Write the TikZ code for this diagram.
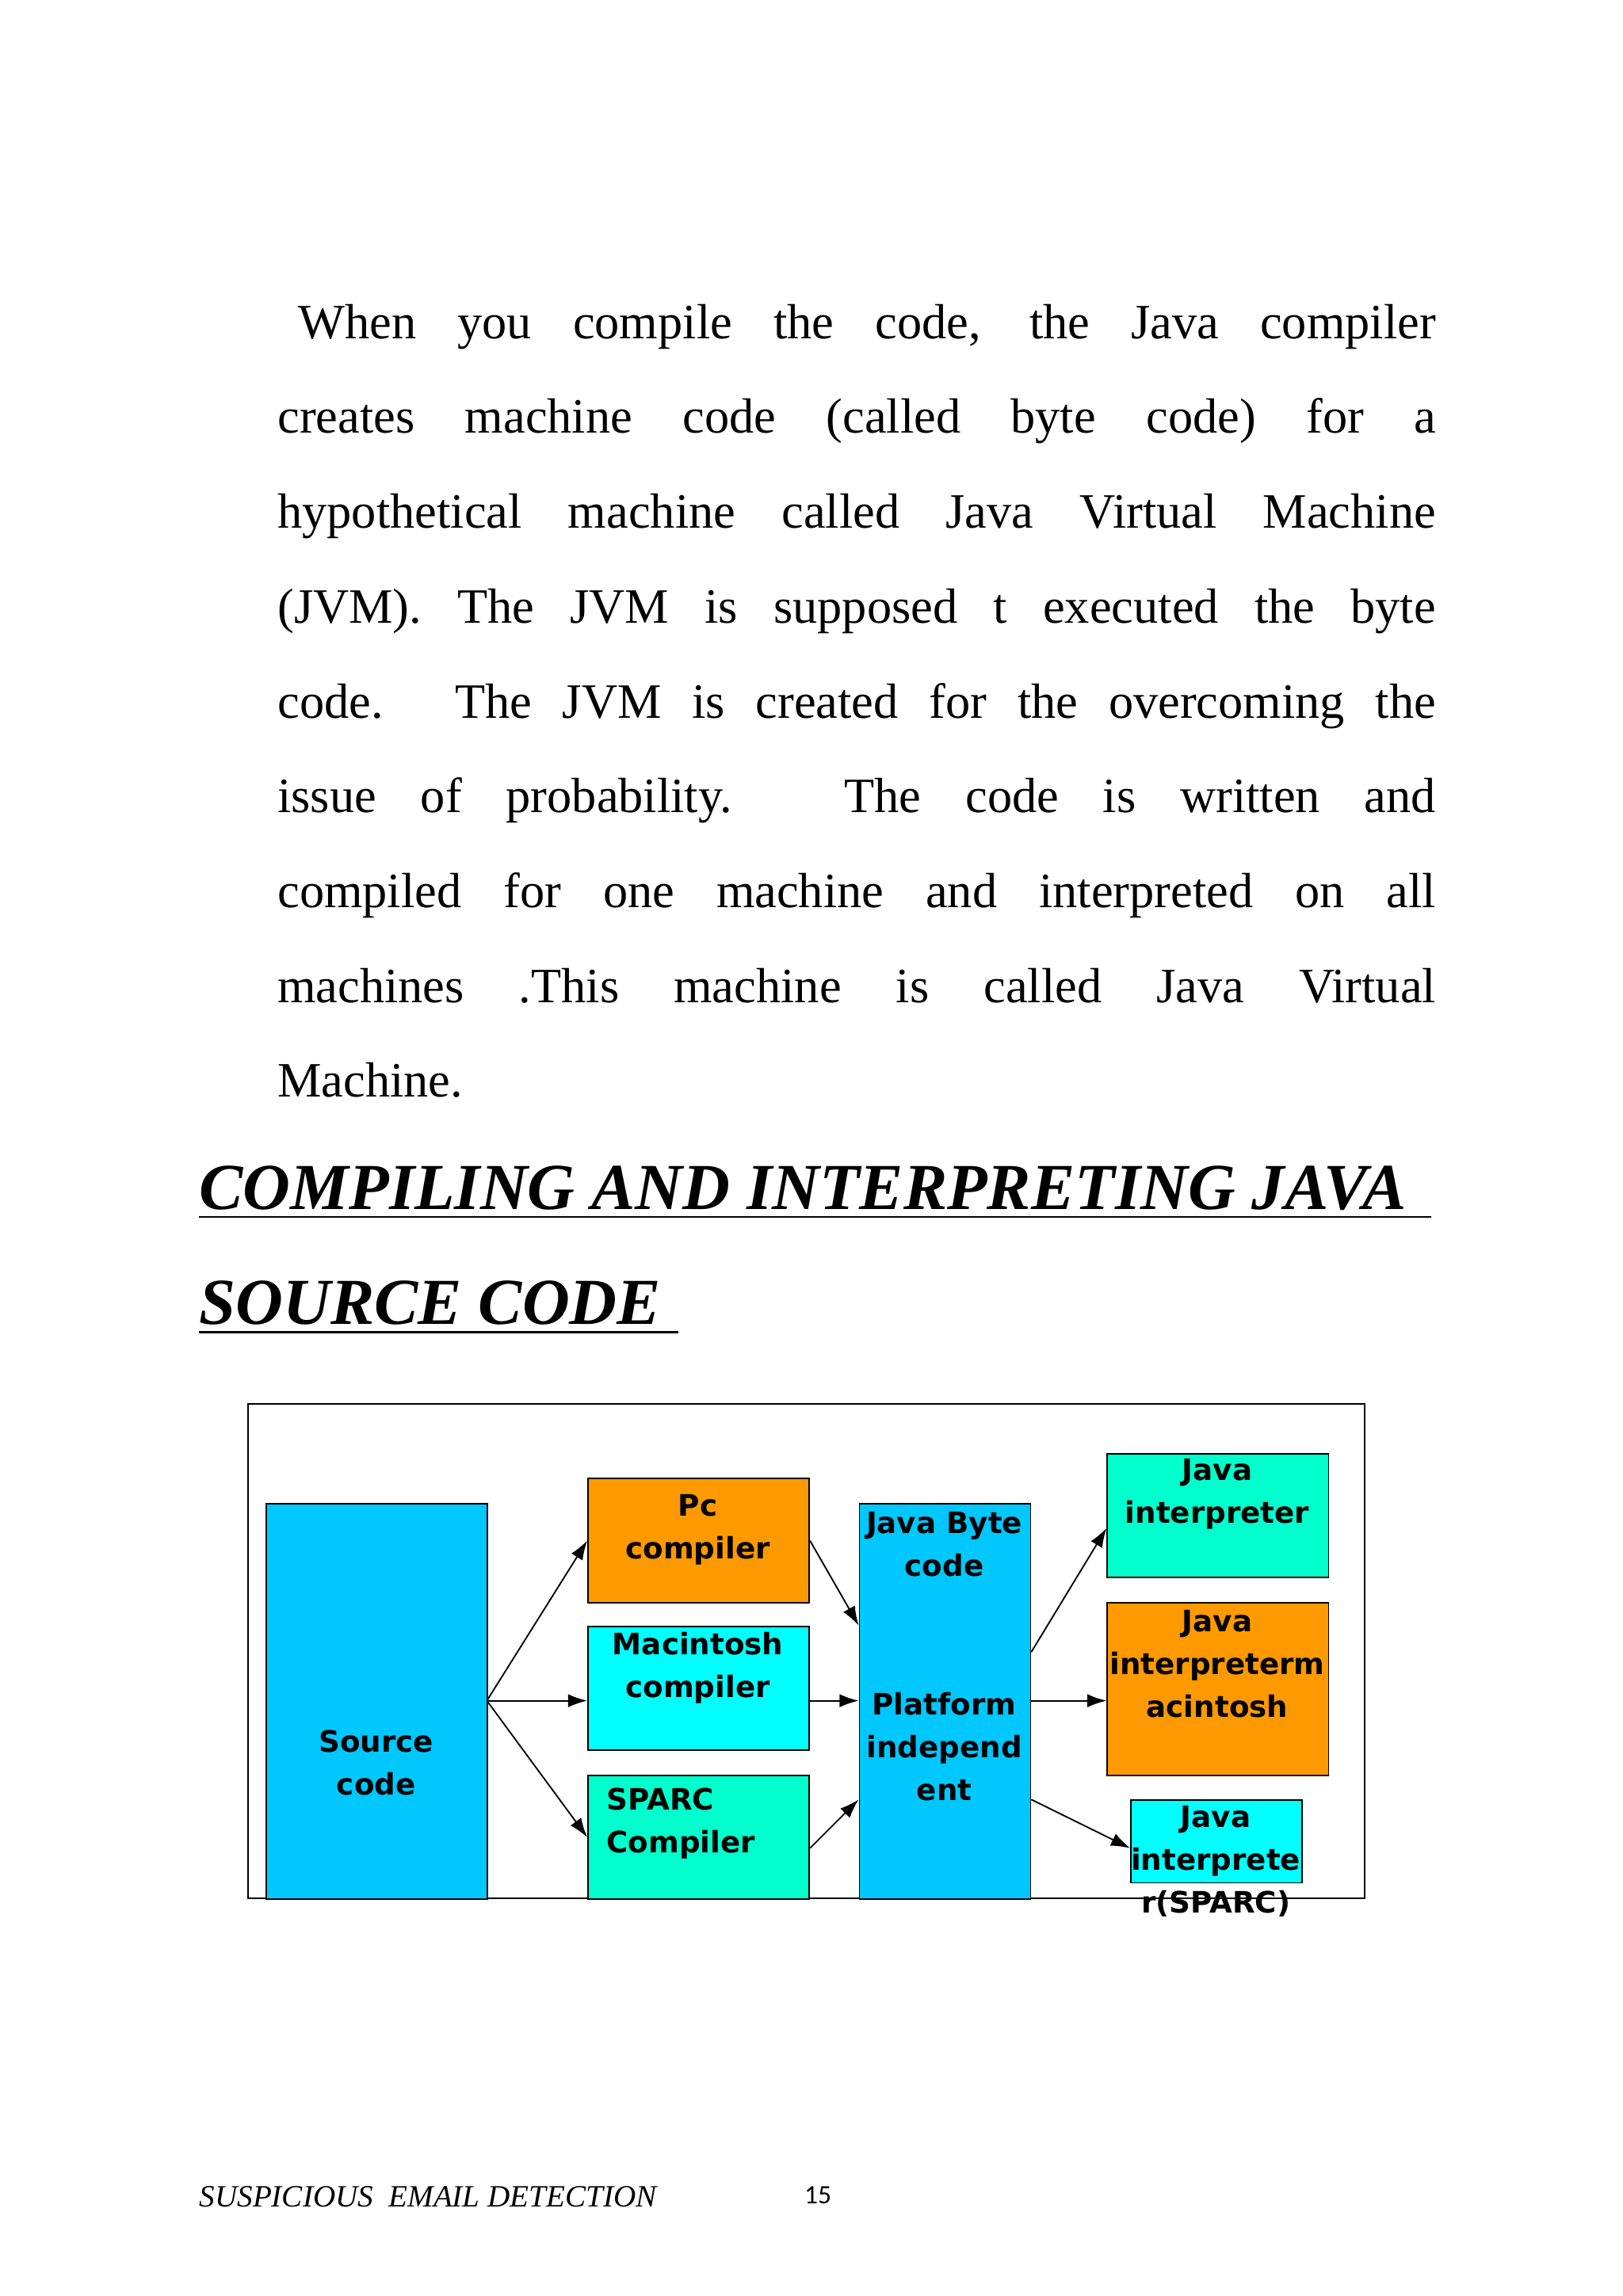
\documentclass[tikz,border=0pt]{standalone}
\usepackage{fontspec}
\setmainfont{Liberation Serif}
\newfontfamily\dv{DejaVu Sans}
\usetikzlibrary{arrows.meta}
\definecolor{skyb}{HTML}{00C8FF}
\definecolor{orng}{HTML}{FF9900}
\definecolor{cyn}{HTML}{00FFFF}
\definecolor{aqua}{HTML}{00FFCC}
\begin{document}
\begin{tikzpicture}[x=1pt,y=-1pt,
 blk/.style={draw=black,line width=1pt,anchor=north west,inner sep=0pt},
 lbl/.style={font=\dv\bfseries\fontsize{20}{29}\selectfont,align=center,inner sep=0pt},
 arr/.style={-{Latex[length=13pt,width=9pt]},line width=1pt}]
\useasboundingbox (0,0) rectangle (1100,1556.6);
% body text
\node[anchor=north west,text width=785pt,align=justify,inner sep=0pt,font=\fontsize{33.5}{64.3}\selectfont] (body) at (188,206)
{\hspace*{14pt}When you compile the code, the Java compiler\linebreak
creates machine code (called byte code) for a\linebreak
hypothetical machine called Java Virtual Machine\linebreak
(JVM). The JVM is supposed t executed the byte\linebreak
code. The JVM is created for the overcoming the\linebreak
issue of probability. The code is written and\linebreak
compiled for one machine and interpreted on all\linebreak
machines .This machine is called Java Virtual\linebreak
Machine.};
% heading
\node[anchor=base west,inner sep=0pt,font=\bfseries\itshape\fontsize{44.5}{50}\selectfont] (h1) at (135,820) {COMPILING AND INTERPRETING JAVA};
\node[anchor=base west,inner sep=0pt,font=\bfseries\itshape\fontsize{44.5}{50}\selectfont] (h2) at (135,898) {SOURCE CODE};
\draw[line width=1.5pt] (135,825) -- (970,825);
\draw[line width=1.5pt] (135,903) -- (460,903);
% diagram
\draw[line width=1pt] (168,952) rectangle (925,1287);
\node[blk,fill=skyb,minimum width=150pt,minimum height=268pt] (src) at (180,1019) {};
\node[lbl] at (255,1195) {Source\\code};
\node[blk,fill=orng,minimum width=150pt,minimum height=84pt] (pc) at (398,1002) {};
\node[lbl] at (473,1037) {Pc\\compiler};
\node[blk,fill=cyn,minimum width=150pt,minimum height=84pt] (mac) at (398,1102) {};
\node[lbl] at (473,1131) {Macintosh\\compiler};
\node[blk,fill=aqua,minimum width=150pt,minimum height=84pt] (sp) at (398,1203) {};
\node[lbl,align=left,anchor=north west] at (411,1212) {SPARC\\Compiler};
\node[blk,fill=skyb,minimum width=116pt,minimum height=268pt] (jb) at (582,1019) {};
\node[lbl] at (640,1047) {Java Byte\\code};
\node[lbl] at (640,1184) {Platform\\independ\\ent};
\node[blk,fill=aqua,minimum width=150pt,minimum height=84pt] (ji) at (750,985) {};
\node[lbl] at (825,1013) {Java\\interpreter};
\node[blk,fill=orng,minimum width=150pt,minimum height=117pt] (jm) at (750,1086) {};
\node[lbl] at (825,1128) {Java\\interpreterm\\acintosh};
\node[blk,fill=cyn,minimum width=116pt,minimum height=56pt] (js) at (766,1220) {};
\node[lbl] at (824,1262) {Java\\interprete\\r(SPARC)};
% arrows
\coordinate (s0) at (330,1153);
\draw[arr] (s0) -- (pc.west);
\draw[arr] (s0) -- (mac.west |- s0);
\draw[arr] (s0) -- (sp.west);
\draw[arr] (pc.east) -- (jb.west |- 0,1102);
\draw[arr] (mac.east |- s0) -- (jb.west |- s0);
\draw[arr] (sp.east |- 0,1253) -- (jb.west |- 0,1220);
\draw[arr] (jb.east |- 0,1120) -- (ji.west |- 0,1036);
\draw[arr] (jb.east |- s0) -- (jm.west |- s0);
\draw[arr] (jb.east |- 0,1220) -- (js.west |- 0,1253);
% footer
\node[anchor=base west,inner sep=0pt,font=\itshape\fontsize{21}{24}\selectfont] (ft) at (135,1496) {SUSPICIOUS\ \ EMAIL DETECTION};
\node[anchor=base west,inner sep=0pt,font=\fontspec{Carlito}\fontsize{18}{22}\selectfont] (pg) at (545,1494) {15};
\end{tikzpicture}
\end{document}
